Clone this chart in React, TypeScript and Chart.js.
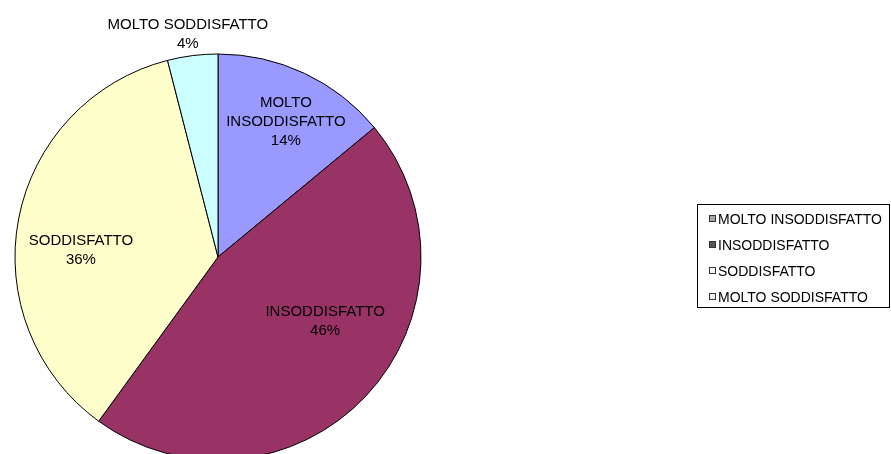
import React, { useEffect, useRef } from "react";
import { Chart, registerables } from "chart.js";

Chart.register(...registerables);

const categories = ["MOLTO INSODDISFATTO", "INSODDISFATTO", "SODDISFATTO", "MOLTO SODDISFATTO"];
const percentages = [14, 46, 36, 4];
const sliceColors = ["#9999FF", "#993366", "#FFFFCC", "#CCFFFF"];
const labelLines = [["MOLTO", "INSODDISFATTO"], ["INSODDISFATTO"], ["SODDISFATTO"], ["MOLTO SODDISFATTO"]];
// label anchor: angle in degrees from the pie centre, distance as fraction of radius
const labelAngles = [-63.3, 30.9, 182.9, -97.7];
const labelDistances = [0.744, 0.615, 0.676, 1.108];

const FONT = '"Liberation Sans", Arial, sans-serif';

function toGray(hex: string): string {
  const r = parseInt(hex.slice(1, 3), 16);
  const g = parseInt(hex.slice(3, 5), 16);
  const b = parseInt(hex.slice(5, 7), 16);
  const l = Math.round(0.3 * r + 0.59 * g + 0.11 * b);
  return `rgb(${l},${l},${l})`;
}

const overlayPlugin = {
  id: "overlay",
  afterDraw(chart: any) {
    const ctx = chart.ctx as CanvasRenderingContext2D;
    const meta = chart.getDatasetMeta(0);
    const arc0 = meta.data[0];
    if (!arc0) return;
    const cx = arc0.x;
    const cy = arc0.y;
    const r = arc0.outerRadius;
    ctx.save();
    ctx.fillStyle = "#000";
    ctx.font = `15px ${FONT}`;
    ctx.textAlign = "center";
    ctx.textBaseline = "middle";
    const lh = 19;
    categories.forEach((_, i) => {
      const a = (labelAngles[i] * Math.PI) / 180;
      const px = cx + Math.cos(a) * r * labelDistances[i];
      const py = cy + Math.sin(a) * r * labelDistances[i];
      const lines = [...labelLines[i], `${percentages[i]}%`];
      const top = py - ((lines.length - 1) * lh) / 2;
      lines.forEach((t, j) => ctx.fillText(t, px, top + j * lh));
    });

    // legend
    const lx = 697, ly = 204, lw = 192, lhBox = 103;
    ctx.strokeStyle = "#000";
    ctx.lineWidth = 1;
    ctx.strokeRect(lx + 0.5, ly + 0.5, lw, lhBox);
    ctx.font = `14px ${FONT}`;
    ctx.textAlign = "left";
    categories.forEach((c, i) => {
      const y = 219 + i * 26;
      ctx.fillStyle = toGray(sliceColors[i]);
      ctx.fillRect(709, y - 4, 7, 7);
      ctx.strokeStyle = "#333";
      ctx.strokeRect(709.5, y - 3.5, 6, 6);
      ctx.fillStyle = "#000";
      ctx.fillText(c, 718, y + 1);
    });
    ctx.restore();
  },
};

export default function App() {
  const ref = useRef<HTMLCanvasElement | null>(null);
  useEffect(() => {
    if (!ref.current) return;
    const chart = new Chart(ref.current, {
      type: "pie",
      data: {
        labels: categories,
        datasets: [
          {
            data: percentages,
            backgroundColor: sliceColors,
            borderColor: "#000",
            borderWidth: 1,
            radius: 203,
          } as any,
        ],
      },
      options: {
        responsive: false,
        maintainAspectRatio: false,
        animation: false,
        layout: { padding: { left: 0, right: 455, top: 60, bottom: 0 } },
        plugins: { legend: { display: false }, tooltip: { enabled: false } },
      },
      plugins: [overlayPlugin],
    });
    return () => chart.destroy();
  }, []);
  return (
    <div style={{ position: "fixed", left: 0, top: 0, width: 891, height: 454, background: "#fff", overflow: "hidden" }}>
      <canvas ref={ref} width={891} height={454} style={{ display: "block" }} />
    </div>
  );
}
